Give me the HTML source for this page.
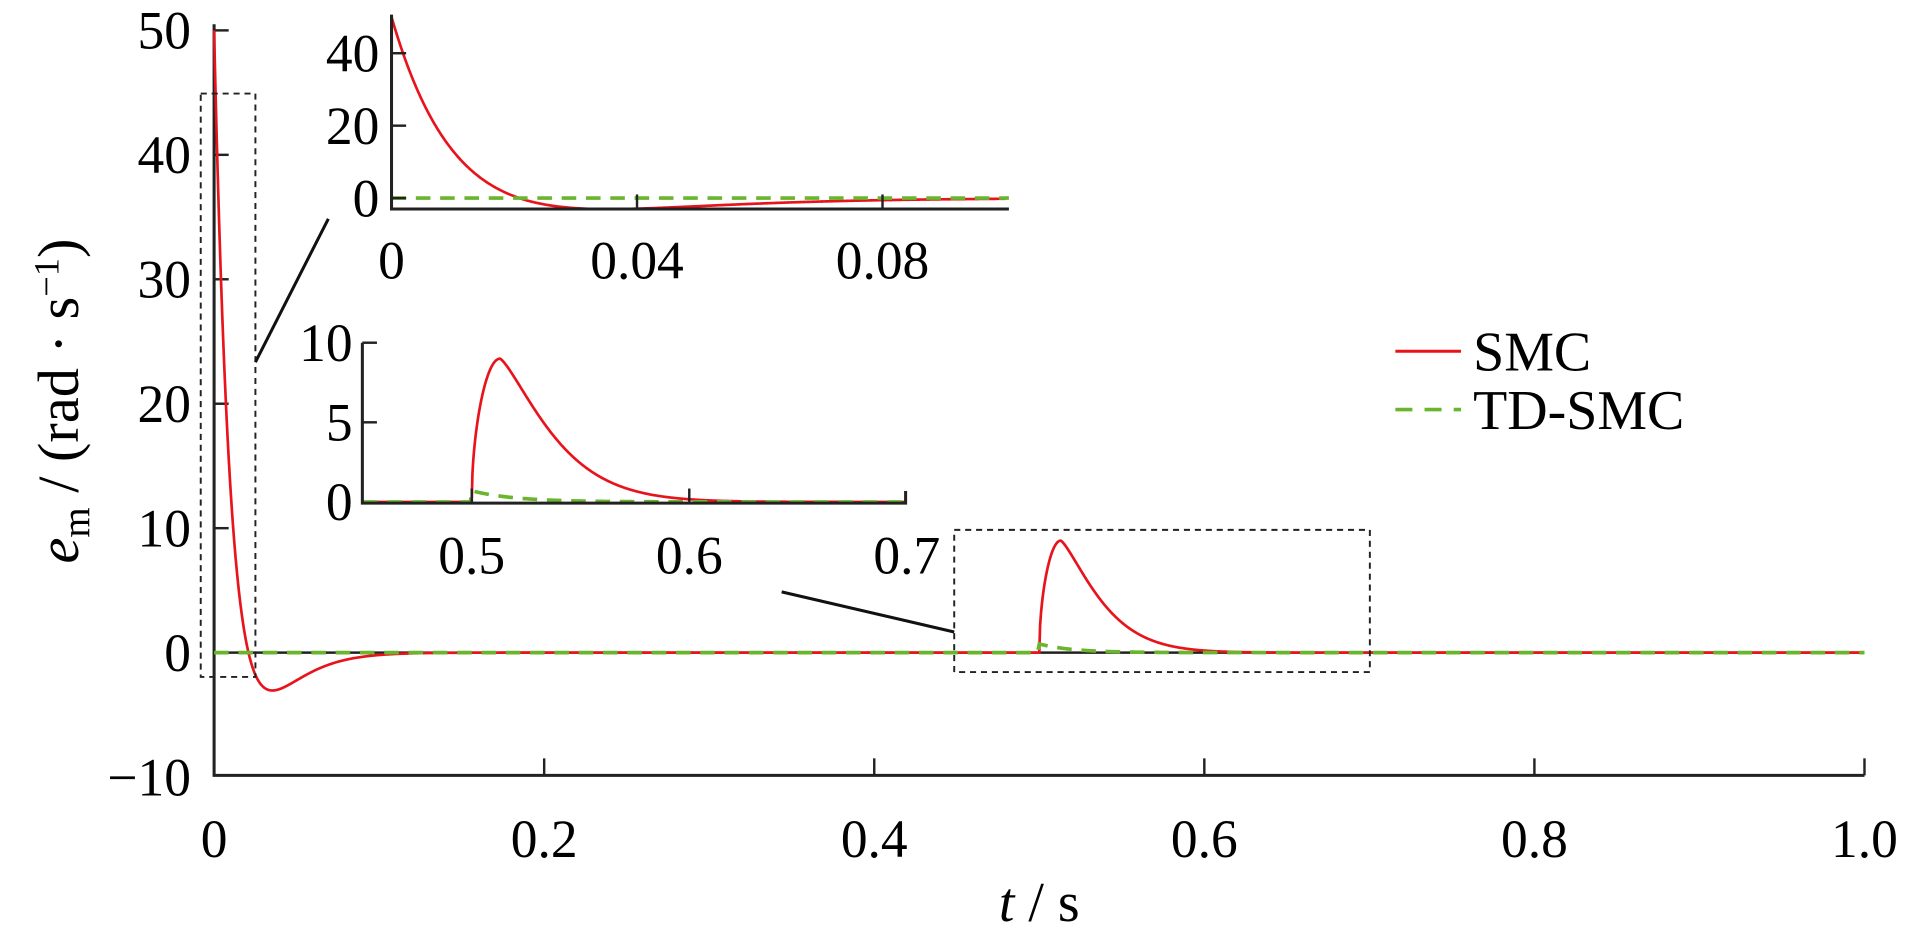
<!DOCTYPE html>
<html><head><meta charset="utf-8"><style>
html,body{margin:0;padding:0;background:#fff;}
svg{display:block;font-family:"Liberation Serif",serif;}
</style></head><body>
<svg id="s" width="1906" height="937" viewBox="0 0 1568 771" xmlns="http://www.w3.org/2000/svg">
<g id="g"></g>
</svg>
<script>
const g=document.getElementById('g');let h='';
function smc(t){
  if(t<0.5){return 50*(1-48*t)*Math.exp(-t/0.0145);}
  const s=t-0.5;
  if(s<0.013)return 9*Math.pow(Math.sin(Math.PI/2*s/0.013),0.5);
  return 9*Math.exp(-Math.pow((s-0.013)/0.03,1.3));
}
function td(t){ if(t<0.5)return 0; const s=t-0.5; return 0.7*Math.exp(-s/0.02);}
function path(f,t0,t1,X,Y,n){let d='';for(let i=0;i<=n;i++){const t=t0+(t1-t0)*i/n;d+=(i?'L':'M')+X(t).toFixed(2)+','+Y(f(t)).toFixed(2);}return d;}
function txt(x,y,s,a,fs){return `<text x="${x}" y="${y}" font-size="${fs||44}" text-anchor="${a||'middle'}">${s}</text>`;}
let X=t=>176+t*1358, Y=v=>537-v*10.24;
h+=`<path d="M176,20V638H1534" fill="none" stroke="#222" stroke-width="2.5"/>`;
h+=`<line x1="176" y1="537" x2="1534" y2="537" stroke="#222" stroke-width="2"/>`;
[0.2,0.4,0.6,0.8,1.0].forEach(t=>h+=`<line x1="${X(t)}" y1="638" x2="${X(t)}" y2="624" stroke="#222" stroke-width="2"/>`);
[50,40,30,20,10].forEach(v=>h+=`<line x1="176" y1="${Y(v)}" x2="188" y2="${Y(v)}" stroke="#222" stroke-width="2"/>`);
['0','0.2','0.4','0.6','0.8','1.0'].forEach((l,i)=>h+=txt(X(i*0.2),705,l));
[[50,'50'],[40,'40'],[30,'30'],[20,'20'],[10,'10'],[0,'0'],[-10,'\u221210']].forEach(([v,l])=>h+=txt(157,Y(v)+15,l,'end'));
h+=`<path d="${path(smc,0,1,X,Y,2000)}" fill="none" stroke="#e8141c" stroke-width="2.2"/>`;
h+=`<path d="${path(td,0,1,X,Y,1000)}" fill="none" stroke="#6ab52e" stroke-width="3" stroke-dasharray="12,8"/>`;
h+=`<text x="855" y="758" font-size="46" text-anchor="middle"><tspan font-style="italic">t</tspan> / s</text>`;
h+=`<text transform="translate(64,330) rotate(-90)" font-size="48" text-anchor="middle"><tspan font-style="italic">e</tspan><tspan font-size="32" dy="9">m</tspan><tspan dy="-9"> / (rad · s</tspan><tspan font-size="30" dy="-16">−1</tspan><tspan dy="16">)</tspan></text>`;
h+=`<rect x="165" y="77" width="45" height="480" fill="none" stroke="#222" stroke-width="1.6" stroke-dasharray="5,4"/>`;
h+=`<rect x="785" y="436" width="342" height="117" fill="none" stroke="#222" stroke-width="1.6" stroke-dasharray="5,4"/>`;
h+=`<line x1="210" y1="298" x2="270" y2="180" stroke="#111" stroke-width="2.5"/>`;
h+=`<line x1="643" y1="487" x2="785" y2="520" stroke="#111" stroke-width="2.5"/>`;
let X1=t=>322+t*5050, Y1=v=>163-v*2.98;
h+=`<rect x="322" y="12" width="508" height="160" fill="#fff"/>`;
h+=`<path d="${path(smc,0,0.1,X1,Y1,500)}" fill="none" stroke="#e8141c" stroke-width="2.2"/>`;
h+=`<path d="M322,163H830" fill="none" stroke="#6ab52e" stroke-width="3" stroke-dasharray="12,8"/>`;
h+=`<path d="M322,12V172H830" fill="none" stroke="#222" stroke-width="2.5"/>`;
[0.04,0.08].forEach(t=>h+=`<line x1="${X1(t)}" y1="172" x2="${X1(t)}" y2="160" stroke="#222" stroke-width="2"/>`);
[0,20,40].forEach(v=>h+=`<line x1="322" y1="${Y1(v)}" x2="334" y2="${Y1(v)}" stroke="#222" stroke-width="2"/>`);
[[0,'0'],[0.04,'0.04'],[0.08,'0.08']].forEach(([t,l])=>h+=txt(X1(t),229,l));
[[0,'0'],[20,'20'],[40,'40']].forEach(([v,l])=>h+=txt(312,Y1(v)+15,l,'end'));
let X2=t=>388+(t-0.5)*1790, Y2=v=>413-v*13.1;
h+=`<path d="${path(smc,0.45,0.7,X2,Y2,800)}" fill="none" stroke="#e8141c" stroke-width="2.2"/>`;
h+=`<path d="${path(td,0.45,0.7,X2,Y2,400)}" fill="none" stroke="#6ab52e" stroke-width="3" stroke-dasharray="12,8"/>`;
h+=`<path d="M298,282V414H745V404" fill="none" stroke="#222" stroke-width="2.5"/>`;
[0.5,0.6].forEach(t=>h+=`<line x1="${X2(t)}" y1="414" x2="${X2(t)}" y2="402" stroke="#222" stroke-width="2"/>`);
[5,10].forEach(v=>h+=`<line x1="298" y1="${Y2(v)}" x2="310" y2="${Y2(v)}" stroke="#222" stroke-width="2"/>`);
[[0.5,'0.5'],[0.6,'0.6'],[0.7,'0.7']].forEach(([t,l])=>h+=txt(X2(t),472,l));
[[0,'0'],[5,'5'],[10,'10']].forEach(([v,l])=>h+=txt(290,Y2(v)+15,l,'end'));
h+=`<line x1="1148" y1="289" x2="1202" y2="289" stroke="#e8141c" stroke-width="2.5"/>`;
h+=`<line x1="1148" y1="337" x2="1202" y2="337" stroke="#6ab52e" stroke-width="3" stroke-dasharray="14,10"/>`;
h+=txt(1212,305,'SMC','start',46);
h+=txt(1212,353,'TD-SMC','start',46);
g.innerHTML=h;
</script>
</body></html>
